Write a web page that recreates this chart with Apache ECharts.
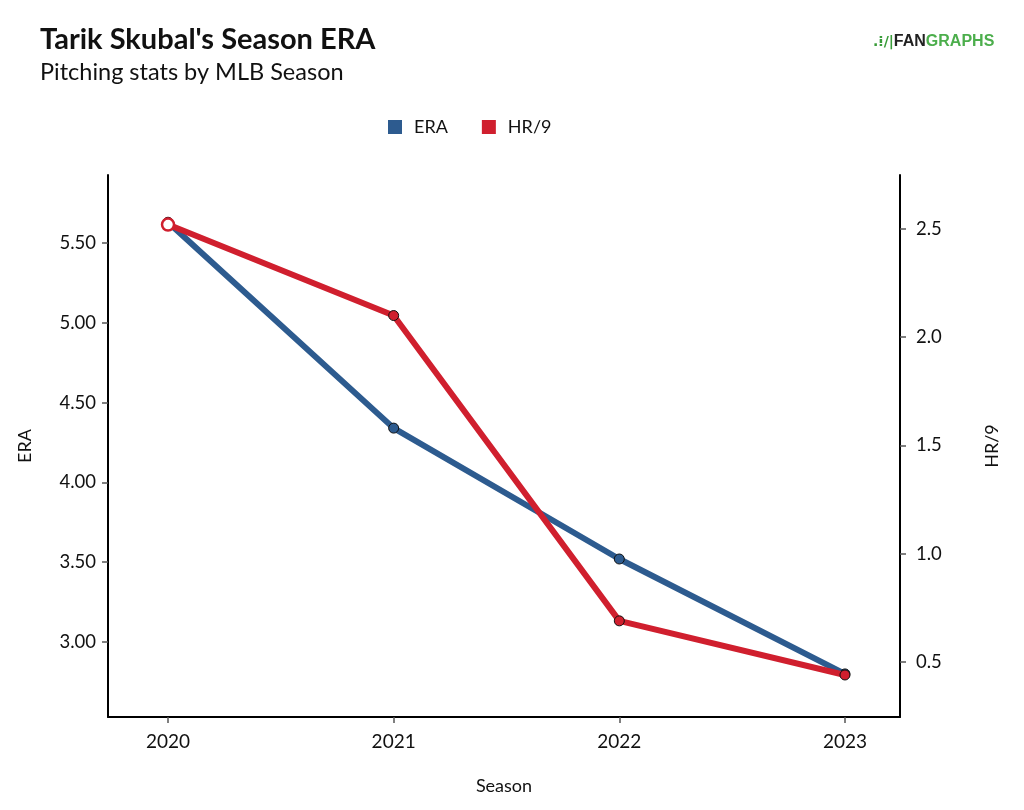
<!DOCTYPE html>
<html><head><meta charset="utf-8">
<script src="https://cdn.jsdelivr.net/npm/echarts@6/dist/echarts.min.js"></script>
<style>html,body{margin:0;padding:0;background:#fff}#c{width:1024px;height:810px}</style>
</head><body><div id="c"></div>
<script>
const seasons = [2020, 2021, 2022, 2023];
const eraValues = [5.63, 4.34, 3.52, 2.80];
const hr9Values = [2.52, 2.10, 0.69, 0.44];
const eraTicks = [3.0, 3.5, 4.0, 4.5, 5.0, 5.5];
const hr9Ticks = [0.5, 1.0, 1.5, 2.0, 2.5];

const BLUE = '#2d5b8f', RED = '#d01f2e';
const chart = echarts.init(document.getElementById('c'));
const font = 'Lato';
chart.setOption({
  animation: false,
  textStyle: {fontFamily: font},
  title: [
    {text: "Tarik Skubal's Season ERA", left: 35, top: 20, textStyle: {fontFamily: font, fontWeight: 'bold', fontSize: 29, color: '#111'}},
    {text: 'Pitching stats by MLB Season', left: 35, top: 55, textStyle: {fontFamily: font, fontWeight: 'normal', fontSize: 23.5, color: '#111'}}
  ],
  graphic: [{
    type: 'text', left: 873, top: 34,
    style: {
      text: '{i|.⁞/|}{a|FAN}{b|GRAPHS}',
      rich: {
        i: {fill: '#3a9c3a', fontSize: 14, fontWeight: 'bold', fontFamily: 'DejaVu Sans'},
        a: {fill: '#222', fontSize: 16, fontWeight: 'bold', fontFamily: 'Liberation Sans'},
        b: {fill: '#4cae4c', fontSize: 16, fontWeight: 'bold', fontFamily: 'Liberation Sans'}
      }
    }
  }],
  legend: {
    top: 113, left: 383, itemGap: 34, itemWidth: 14, itemHeight: 14,
    icon: 'rect',
    textStyle: {fontFamily: font, fontSize: 18, color: '#111', padding: [0, 0, 0, 7]},
    data: [{name: 'ERA', itemStyle: {color: BLUE, borderWidth: 0}}, {name: 'HR/9', itemStyle: {color: RED, borderWidth: 0}}]
  },
  grid: {left: 108, right: 124, top: 175, bottom: 93},
  xAxis: {
    type: 'value', min: 2019.734, max: 2023.244,
    name: 'Season', nameLocation: 'middle', nameGap: 60,
    nameTextStyle: {fontFamily: font, fontSize: 18, color: '#111'},
    axisLine: {show: true, lineStyle: {color: '#000', width: 2}},
    axisTick: {show: true, customValues: seasons, length: 6, lineStyle: {color: '#555', width: 1.5}},
    axisLabel: {customValues: seasons, fontSize: 19, color: '#111', margin: 15, formatter: v => String(v)},
    splitLine: {show: false}
  },
  yAxis: [{
    type: 'value', min: 2.53, max: 5.926, position: 'left',
    name: 'ERA', nameLocation: 'middle', nameGap: 74, nameRotate: 90,
    nameTextStyle: {fontFamily: font, fontSize: 18, color: '#111'},
    axisLine: {show: true, lineStyle: {color: '#000', width: 2}},
    axisTick: {show: true, customValues: eraTicks, length: 6, lineStyle: {color: '#555', width: 1.5}},
    axisLabel: {customValues: eraTicks, fontSize: 18.5, color: '#111', margin: 12, formatter: v => v.toFixed(2)},
    splitLine: {show: false}
  }, {
    type: 'value', min: 0.246, max: 2.749, position: 'right',
    name: 'HR/9', nameLocation: 'middle', nameGap: 83, nameRotate: 90,
    nameTextStyle: {fontFamily: font, fontSize: 18, color: '#111'},
    axisLine: {show: true, lineStyle: {color: '#000', width: 2}},
    axisTick: {show: true, customValues: hr9Ticks, length: 6, lineStyle: {color: '#555', width: 1.5}},
    axisLabel: {customValues: hr9Ticks, fontSize: 18.5, color: '#111', margin: 16, formatter: v => v.toFixed(1)},
    splitLine: {show: false}
  }],
  series: [{
    name: 'ERA', type: 'line', yAxisIndex: 0, z: 2,
    data: seasons.map((s, i) => [s, eraValues[i]]),
    lineStyle: {color: BLUE, width: 6},
    symbol: 'circle', symbolSize: 10,
    itemStyle: {color: BLUE, borderColor: '#111', borderWidth: 1}
  }, {
    name: 'HR/9', type: 'line', yAxisIndex: 1, z: 3,
    data: seasons.map((s, i) => i === 0
      ? {value: [s, hr9Values[i]], itemStyle: {color: '#fff', borderColor: RED, borderWidth: 2.5}, symbolSize: 12}
      : [s, hr9Values[i]]),
    lineStyle: {color: RED, width: 6},
    symbol: 'circle', symbolSize: 10,
    itemStyle: {color: RED, borderColor: '#111', borderWidth: 1}
  }]
});
</script></body></html>
